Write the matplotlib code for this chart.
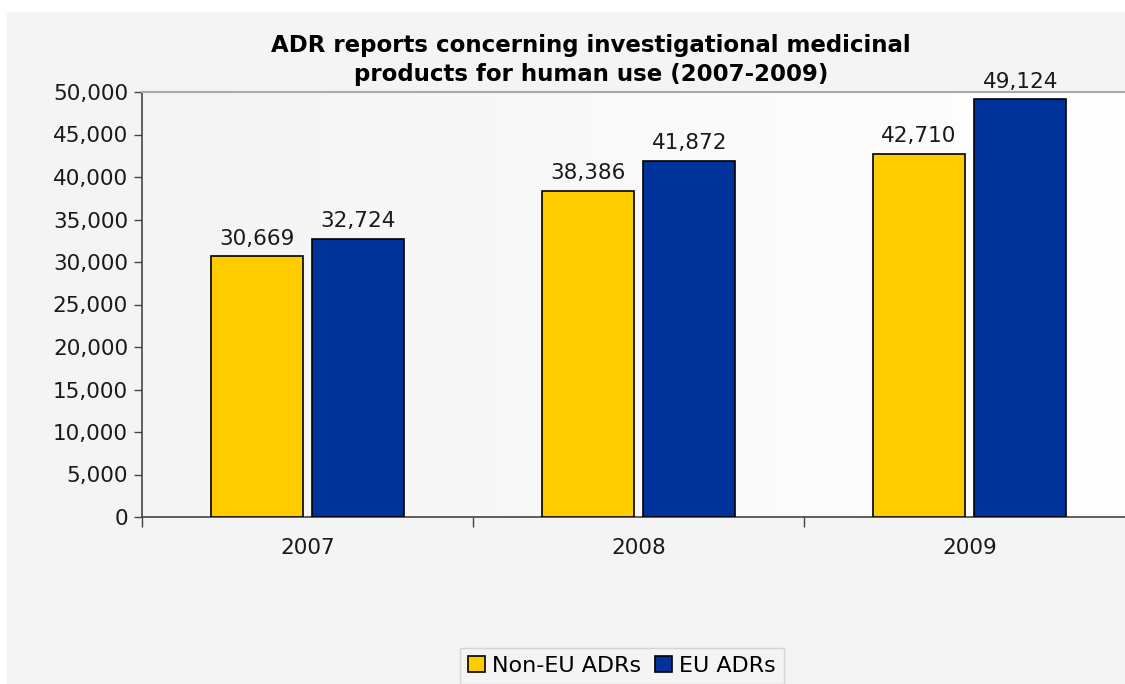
import numpy as np
import matplotlib
matplotlib.use("Agg")
import matplotlib.pyplot as plt
from matplotlib.patches import Rectangle
from matplotlib.ticker import FuncFormatter

years = ["2007", "2008", "2009"]
non_eu = [30669, 38386, 42710]
eu = [32724, 41872, 49124]
series_names = ["Non-EU ADRs", "EU ADRs"]
yellow = "#ffcc00"
blue = "#003399"

plt.rcParams["font.family"] = "DejaVu Sans"

fig = plt.figure(figsize=(11.25, 6.84), dpi=100)
fig.patch.set_facecolor("white")
# grey chart area
fig.patches.append(Rectangle((7 / 1125, 0), 1, 1 - 12 / 684, transform=fig.transFigure,
                             facecolor="#f4f4f4", edgecolor="none", zorder=-10))

ax = fig.add_axes([142 / 1125, 1 - 517 / 684, (1135 - 142) / 1125, (517 - 92) / 684])
ax.set_facecolor("none")

# subtle horizontal gradient in the plot area
grad = np.linspace(0, 1, 256).reshape(1, -1)
ax.imshow(grad, extent=[0, 1, 0, 1], transform=ax.transAxes, aspect="auto",
          cmap=matplotlib.colors.LinearSegmentedColormap.from_list("g", ["#f4f4f4", "#ffffff"]),
          zorder=0)

x = np.arange(len(years))
w = 0.278
off = 0.154
b1 = ax.bar(x - off, non_eu, w, color=yellow, edgecolor="black", linewidth=1.2,
            label=series_names[0], zorder=3)
b2 = ax.bar(x + off, eu, w, color=blue, edgecolor="black", linewidth=1.2,
            label=series_names[1], zorder=3)

for bars, vals in ((b1, non_eu), (b2, eu)):
    for r, v in zip(bars, vals):
        ax.text(r.get_x() + r.get_width() / 2, v + 900, f"{v:,}", ha="center", va="bottom",
                fontsize=15.5, color="#1a1a1a", zorder=4)

ax.set_xlim(-0.5, 2.5)
ax.set_ylim(0, 50000)
ax.set_yticks(np.arange(0, 50001, 5000))
ax.yaxis.set_major_formatter(FuncFormatter(lambda v, p: f"{int(v):,}"))
ax.set_xticks([-0.5, 0.5, 1.5, 2.5])
ax.set_xticklabels([])
ax.set_xticks(x, minor=True)
ax.set_xticklabels(years, minor=True)
ax.tick_params(axis="x", which="minor", length=0, pad=15, labelsize=15.5, labelcolor="#1a1a1a")
ax.tick_params(axis="x", which="major", length=7, width=1, color="#444444", direction="out")
ax.tick_params(axis="y", length=6, width=1, color="#444444", labelsize=15.5, pad=4,
               labelcolor="#1a1a1a")

for s in ("left", "bottom"):
    ax.spines[s].set_color("#444444")
    ax.spines[s].set_linewidth(1.2)
ax.spines["top"].set_color("#aaaaaa")
ax.spines["top"].set_linewidth(1.5)
ax.spines["right"].set_visible(False)

fig.text(591 / 1125, 1 - 60 / 684, "ADR reports concerning investigational medicinal\nproducts for human use (2007-2009)",
         ha="center", va="center", fontsize=16.5, fontweight="bold", linespacing=1.28)

leg = fig.legend(handles=[b1, b2], loc="center", bbox_to_anchor=(622 / 1125, 1 - 666 / 684),
                 ncol=2, fontsize=16, frameon=True, fancybox=False, handlelength=0.75,
                 handleheight=0.75, handletextpad=0.35, columnspacing=0.6, borderpad=0.35)
leg.get_frame().set_edgecolor("#cccccc")
leg.get_frame().set_facecolor("#f4f4f4")

fig.savefig("out.png", dpi=100)
